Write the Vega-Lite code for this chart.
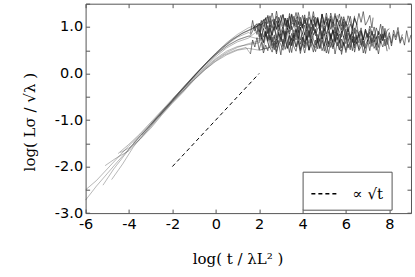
{
"$schema":"https://vega.github.io/schema/vega-lite/v6.json",
"width":325.4,"height":209.4,
"autosize":{"type":"none"},
"padding":{"left":85.6,"top":3.7,"right":4,"bottom":64},
"config":{"view":{"stroke":"#555","strokeWidth":1},
"axis":{"grid":false,"domain":false,"tickColor":"#555","tickSize":-4,"tickWidth":1,"labelFont":"DejaVu Sans","labelFontSize":14.5,"labelColor":"black","labelFlush":false,"titleFont":"DejaVu Serif","titleFontSize":15,"titleFontWeight":"normal","titleColor":"black"}},
"datasets":{
"curves":[
{"s":1,"x":-6,"y":-2.72},{"s":1,"x":-5.5,"y":-2.42},{"s":1,"x":-5,"y":-2.15},{"s":1,"x":-4.5,"y":-1.88},{"s":1,"x":-4,"y":-1.62},{"s":1,"x":-3.5,"y":-1.36},{"s":1,"x":-3,"y":-1.12},{"s":1,"x":-2.5,"y":-0.86},{"s":1,"x":-2,"y":-0.6},{"s":1,"x":-1.5,"y":-0.36},{"s":1,"x":-1,"y":-0.12},{"s":1,"x":-0.5,"y":0.1},{"s":1,"x":0,"y":0.3},{"s":1,"x":0.5,"y":0.45},{"s":1,"x":1,"y":0.56},{"s":1,"x":1.5,"y":0.64},{"s":1,"x":2,"y":0.7},
{"s":1,"x":2.1,"y":0.86},{"s":1,"x":2.2,"y":0.66},{"s":1,"x":2.3,"y":0.89},{"s":1,"x":2.4,"y":0.71},{"s":1,"x":2.5,"y":0.83},{"s":1,"x":2.6,"y":0.6},{"s":1,"x":2.7,"y":0.79},{"s":1,"x":2.8,"y":0.56},{"s":1,"x":2.9,"y":0.85},{"s":1,"x":3.0,"y":0.76},{"s":1,"x":3.1,"y":0.64},{"s":1,"x":3.2,"y":0.91},{"s":1,"x":3.3,"y":0.68},{"s":1,"x":3.4,"y":0.82},{"s":1,"x":3.5,"y":0.59},{"s":1,"x":3.6,"y":0.87},{"s":1,"x":3.7,"y":0.72},{"s":1,"x":3.8,"y":0.93},{"s":1,"x":3.9,"y":0.63},{"s":1,"x":4.0,"y":0.78},{"s":1,"x":4.1,"y":0.58},{"s":1,"x":4.2,"y":0.81},{"s":1,"x":4.3,"y":0.65},{"s":1,"x":4.4,"y":0.88},{"s":1,"x":4.5,"y":0.74},{"s":1,"x":4.6,"y":0.61},{"s":1,"x":4.7,"y":0.84},{"s":1,"x":4.8,"y":0.69},{"s":1,"x":4.9,"y":0.92},{"s":1,"x":5.0,"y":0.62},{"s":1,"x":5.1,"y":0.77},{"s":1,"x":5.2,"y":0.57},{"s":1,"x":5.3,"y":0.83},{"s":1,"x":5.4,"y":0.67},{"s":1,"x":5.5,"y":0.9},{"s":1,"x":5.6,"y":0.73},{"s":1,"x":5.7,"y":0.85},{"s":1,"x":5.8,"y":0.55},{"s":1,"x":5.9,"y":0.8},{"s":1,"x":6.0,"y":0.64},{"s":1,"x":6.1,"y":0.87},{"s":1,"x":6.2,"y":0.7},{"s":1,"x":6.3,"y":0.94},{"s":1,"x":6.4,"y":0.6},{"s":1,"x":6.5,"y":0.82},{"s":1,"x":6.6,"y":0.66},{"s":1,"x":6.7,"y":0.89},{"s":1,"x":6.8,"y":0.58},{"s":1,"x":6.9,"y":0.76},{"s":1,"x":7.0,"y":0.86},{"s":1,"x":7.1,"y":0.63},{"s":1,"x":7.2,"y":0.91},{"s":1,"x":7.3,"y":0.68},{"s":1,"x":7.4,"y":0.79},{"s":1,"x":7.5,"y":0.56},{"s":1,"x":7.6,"y":0.84},{"s":1,"x":7.7,"y":0.71},{"s":1,"x":7.8,"y":0.88},{"s":1,"x":7.9,"y":0.62},{"s":1,"x":8.0,"y":0.81},{"s":1,"x":8.1,"y":0.59},{"s":1,"x":8.2,"y":0.85},{"s":1,"x":8.3,"y":0.72},{"s":1,"x":8.4,"y":0.9},{"s":1,"x":8.5,"y":0.65},{"s":1,"x":8.6,"y":0.78},{"s":1,"x":8.7,"y":0.61},{"s":1,"x":8.8,"y":0.92},{"s":1,"x":8.9,"y":0.67},{"s":1,"x":9.0,"y":0.83},
{"s":2,"x":-6,"y":-2.5},{"s":2,"x":-5.5,"y":-2.3},{"s":2,"x":-5,"y":-2.05},{"s":2,"x":-4.5,"y":-1.8},{"s":2,"x":-4,"y":-1.55},{"s":2,"x":-3.5,"y":-1.32},{"s":2,"x":-3,"y":-1.08},{"s":2,"x":-2.5,"y":-0.82},{"s":2,"x":-2,"y":-0.58},{"s":2,"x":-1.5,"y":-0.34},{"s":2,"x":-1,"y":-0.08},{"s":2,"x":-0.5,"y":0.14},{"s":2,"x":0,"y":0.36},{"s":2,"x":0.5,"y":0.55},{"s":2,"x":1,"y":0.68},{"s":2,"x":1.5,"y":0.76},
{"s":2,"x":2.0,"y":0.94},{"s":2,"x":2.1,"y":0.8},{"s":2,"x":2.2,"y":0.67},{"s":2,"x":2.3,"y":0.9},{"s":2,"x":2.4,"y":0.75},{"s":2,"x":2.5,"y":0.98},{"s":2,"x":2.6,"y":0.68},{"s":2,"x":2.7,"y":0.83},{"s":2,"x":2.8,"y":0.63},{"s":2,"x":2.9,"y":0.89},{"s":2,"x":3.0,"y":0.73},{"s":2,"x":3.1,"y":0.96},{"s":2,"x":3.2,"y":0.79},{"s":2,"x":3.3,"y":0.91},{"s":2,"x":3.4,"y":0.61},{"s":2,"x":3.5,"y":0.86},{"s":2,"x":3.6,"y":0.7},{"s":2,"x":3.7,"y":0.93},{"s":2,"x":3.8,"y":0.76},{"s":2,"x":3.9,"y":1.0},{"s":2,"x":4.0,"y":0.66},{"s":2,"x":4.1,"y":0.88},{"s":2,"x":4.2,"y":0.72},{"s":2,"x":4.3,"y":0.95},{"s":2,"x":4.4,"y":0.64},{"s":2,"x":4.5,"y":0.82},{"s":2,"x":4.6,"y":0.92},{"s":2,"x":4.7,"y":0.69},{"s":2,"x":4.8,"y":0.97},{"s":2,"x":4.9,"y":0.74},{"s":2,"x":5.0,"y":0.85},{"s":2,"x":5.1,"y":0.62},{"s":2,"x":5.2,"y":0.9},{"s":2,"x":5.3,"y":0.77},{"s":2,"x":5.4,"y":0.94},{"s":2,"x":5.5,"y":0.68},{"s":2,"x":5.6,"y":0.87},{"s":2,"x":5.7,"y":0.65},{"s":2,"x":5.8,"y":0.91},{"s":2,"x":5.9,"y":0.78},{"s":2,"x":6.0,"y":0.96},{"s":2,"x":6.1,"y":0.71},{"s":2,"x":6.2,"y":0.84},{"s":2,"x":6.3,"y":0.67},{"s":2,"x":6.4,"y":0.98},{"s":2,"x":6.5,"y":0.73},{"s":2,"x":6.6,"y":0.89},{"s":2,"x":6.7,"y":0.92},{"s":2,"x":6.8,"y":0.72},{"s":2,"x":6.9,"y":0.95},{"s":2,"x":7.0,"y":0.77},{"s":2,"x":7.1,"y":0.89},{"s":2,"x":7.2,"y":0.66},{"s":2,"x":7.3,"y":0.85},{"s":2,"x":7.4,"y":0.62},{"s":2,"x":7.5,"y":0.91},{"s":2,"x":7.6,"y":0.82},{"s":2,"x":7.7,"y":0.7},{"s":2,"x":7.8,"y":0.97},{"s":2,"x":7.9,"y":0.74},{"s":2,"x":8.0,"y":0.88},{"s":2,"x":8.1,"y":0.65},{"s":2,"x":8.2,"y":0.93},{"s":2,"x":8.3,"y":0.78},{"s":2,"x":8.4,"y":0.99},{"s":2,"x":8.5,"y":0.69},{"s":2,"x":8.6,"y":0.84},
{"s":3,"x":-5.1,"y":-1.98},{"s":3,"x":-4.6,"y":-1.82},{"s":3,"x":-4,"y":-1.66},{"s":3,"x":-3.5,"y":-1.4},{"s":3,"x":-3,"y":-1.15},{"s":3,"x":-2.5,"y":-0.88},{"s":3,"x":-2,"y":-0.62},{"s":3,"x":-1.5,"y":-0.38},{"s":3,"x":-1,"y":-0.1},{"s":3,"x":-0.5,"y":0.12},{"s":3,"x":0,"y":0.32},{"s":3,"x":0.5,"y":0.48},{"s":3,"x":1,"y":0.58},{"s":3,"x":1.5,"y":0.62},{"s":3,"x":2,"y":0.66},
{"s":3,"x":2.1,"y":0.76},{"s":3,"x":2.2,"y":0.53},{"s":3,"x":2.3,"y":0.84},{"s":3,"x":2.4,"y":0.66},{"s":3,"x":2.5,"y":0.56},{"s":3,"x":2.6,"y":0.79},{"s":3,"x":2.7,"y":0.51},{"s":3,"x":2.8,"y":0.74},{"s":3,"x":2.9,"y":0.63},{"s":3,"x":3.0,"y":0.86},{"s":3,"x":3.1,"y":0.58},{"s":3,"x":3.2,"y":0.71},{"s":3,"x":3.3,"y":0.54},{"s":3,"x":3.4,"y":0.8},{"s":3,"x":3.5,"y":0.61},{"s":3,"x":3.6,"y":0.83},{"s":3,"x":3.7,"y":0.57},{"s":3,"x":3.8,"y":0.7},{"s":3,"x":3.9,"y":0.52},{"s":3,"x":4.0,"y":0.77},{"s":3,"x":4.1,"y":0.64},{"s":3,"x":4.2,"y":0.81},{"s":3,"x":4.3,"y":0.5},{"s":3,"x":4.4,"y":0.75},{"s":3,"x":4.5,"y":0.59},{"s":3,"x":4.6,"y":0.56},{"s":3,"x":4.7,"y":0.76},{"s":3,"x":4.8,"y":0.53},{"s":3,"x":4.9,"y":0.71},{"s":3,"x":5.0,"y":0.59},{"s":3,"x":5.1,"y":0.82},{"s":3,"x":5.2,"y":0.63},{"s":3,"x":5.3,"y":0.86},{"s":3,"x":5.4,"y":0.57},{"s":3,"x":5.5,"y":0.66},{"s":3,"x":5.6,"y":0.78},{"s":3,"x":5.7,"y":0.51},{"s":3,"x":5.8,"y":0.74},{"s":3,"x":5.9,"y":0.6},{"s":3,"x":6.0,"y":0.83},{"s":3,"x":6.1,"y":0.55},{"s":3,"x":6.2,"y":0.7},{"s":3,"x":6.3,"y":0.49},{"s":3,"x":6.4,"y":0.79},{"s":3,"x":6.5,"y":0.64},{"s":3,"x":6.6,"y":0.84},{"s":3,"x":6.7,"y":0.61},{"s":3,"x":6.8,"y":0.77},{"s":3,"x":6.9,"y":0.54},{"s":3,"x":7.0,"y":0.68},{"s":3,"x":7.1,"y":0.81},{"s":3,"x":7.2,"y":0.58},{"s":3,"x":7.3,"y":0.73},{"s":3,"x":7.4,"y":0.5},{"s":3,"x":7.5,"y":0.8},{"s":3,"x":7.6,"y":0.65},{"s":3,"x":7.7,"y":0.85},{"s":3,"x":7.8,"y":0.59},{"s":3,"x":7.9,"y":0.75},{"s":3,"x":8.0,"y":0.52},
{"s":4,"x":-4.5,"y":-1.72},{"s":4,"x":-4,"y":-1.52},{"s":4,"x":-3.5,"y":-1.3},{"s":4,"x":-3,"y":-1.05},{"s":4,"x":-2.5,"y":-0.8},{"s":4,"x":-2,"y":-0.55},{"s":4,"x":-1.5,"y":-0.3},{"s":4,"x":-1,"y":-0.05},{"s":4,"x":-0.5,"y":0.18},{"s":4,"x":0,"y":0.4},{"s":4,"x":0.5,"y":0.58},{"s":4,"x":1,"y":0.72},{"s":4,"x":1.5,"y":0.8},
{"s":4,"x":2.0,"y":0.74},{"s":4,"x":2.1,"y":1.01},{"s":4,"x":2.2,"y":0.78},{"s":4,"x":2.3,"y":0.92},{"s":4,"x":2.4,"y":0.69},{"s":4,"x":2.5,"y":0.97},{"s":4,"x":2.6,"y":0.82},{"s":4,"x":2.7,"y":1.03},{"s":4,"x":2.8,"y":0.73},{"s":4,"x":2.9,"y":0.88},{"s":4,"x":3.0,"y":0.68},{"s":4,"x":3.1,"y":0.91},{"s":4,"x":3.2,"y":0.75},{"s":4,"x":3.3,"y":0.98},{"s":4,"x":3.4,"y":0.84},{"s":4,"x":3.5,"y":0.71},{"s":4,"x":3.6,"y":0.94},{"s":4,"x":3.7,"y":0.79},{"s":4,"x":3.8,"y":1.02},{"s":4,"x":3.9,"y":0.72},{"s":4,"x":4.0,"y":0.87},{"s":4,"x":4.1,"y":0.67},{"s":4,"x":4.2,"y":0.93},{"s":4,"x":4.3,"y":0.77},{"s":4,"x":4.4,"y":1.0},{"s":4,"x":4.5,"y":0.83},{"s":4,"x":4.6,"y":0.95},{"s":4,"x":4.7,"y":0.65},{"s":4,"x":4.8,"y":0.9},{"s":4,"x":4.9,"y":0.74},{"s":4,"x":5.0,"y":0.97},{"s":4,"x":5.1,"y":0.8},{"s":4,"x":5.2,"y":1.04},{"s":4,"x":5.3,"y":0.7},{"s":4,"x":5.4,"y":0.92},{"s":4,"x":5.5,"y":0.76},{"s":4,"x":5.6,"y":0.99},{"s":4,"x":5.7,"y":0.68},{"s":4,"x":5.8,"y":0.86},{"s":4,"x":5.9,"y":0.96},{"s":4,"x":6.0,"y":0.73},{"s":4,"x":6.1,"y":1.01},{"s":4,"x":6.2,"y":0.78},{"s":4,"x":6.3,"y":0.89},{"s":4,"x":6.4,"y":0.66},{"s":4,"x":6.5,"y":0.94},{"s":4,"x":6.6,"y":0.81},{"s":4,"x":6.7,"y":0.98},{"s":4,"x":6.8,"y":0.72},{"s":4,"x":6.9,"y":0.91},{"s":4,"x":7.0,"y":0.69},{"s":4,"x":7.1,"y":0.95},{"s":4,"x":7.2,"y":0.82},{"s":4,"x":7.3,"y":1.0},{"s":4,"x":7.4,"y":0.75},{"s":4,"x":7.5,"y":0.88},{"s":4,"x":7.6,"y":0.71},{"s":4,"x":7.7,"y":1.02},{"s":4,"x":7.8,"y":0.77},{"s":4,"x":7.9,"y":0.93},{"s":4,"x":8.0,"y":0.96},
{"s":5,"x":-5.2,"y":-2.4},{"s":5,"x":-4.7,"y":-2.05},{"s":5,"x":-4.2,"y":-1.75},{"s":5,"x":-3.7,"y":-1.45},{"s":5,"x":-3.2,"y":-1.2},{"s":5,"x":-2.7,"y":-0.95},{"s":5,"x":-2.2,"y":-0.68},{"s":5,"x":-1.7,"y":-0.42},{"s":5,"x":-1.2,"y":-0.16},{"s":5,"x":-0.7,"y":0.1},{"s":5,"x":-0.2,"y":0.34},{"s":5,"x":0.3,"y":0.56},{"s":5,"x":0.8,"y":0.74},{"s":5,"x":1.3,"y":0.88},{"s":5,"x":1.8,"y":0.98},
{"s":5,"x":2.4,"y":1.22},{"s":5,"x":2.5,"y":0.99},{"s":5,"x":2.6,"y":1.16},{"s":5,"x":2.7,"y":1.04},{"s":5,"x":2.8,"y":1.34},{"s":5,"x":2.9,"y":1.09},{"s":5,"x":3.0,"y":1.25},{"s":5,"x":3.1,"y":1.02},{"s":5,"x":3.2,"y":1.19},{"s":5,"x":3.3,"y":0.95},{"s":5,"x":3.4,"y":1.29},{"s":5,"x":3.5,"y":1.07},{"s":5,"x":3.6,"y":1.23},{"s":5,"x":3.7,"y":1.0},{"s":5,"x":3.8,"y":1.31},{"s":5,"x":3.9,"y":1.13},{"s":5,"x":4.0,"y":1.03},{"s":5,"x":4.1,"y":1.26},{"s":5,"x":4.2,"y":0.98},{"s":5,"x":4.3,"y":1.21},{"s":5,"x":4.4,"y":1.1},{"s":5,"x":4.5,"y":1.33},{"s":5,"x":4.6,"y":1.05},{"s":5,"x":4.7,"y":1.18},{"s":5,"x":4.8,"y":1.01},{"s":5,"x":4.9,"y":1.27},{"s":5,"x":5.0,"y":1.08},{"s":5,"x":5.1,"y":1.3},{"s":5,"x":5.2,"y":1.04},{"s":5,"x":5.3,"y":1.17},{"s":5,"x":5.4,"y":0.99},{"s":5,"x":5.5,"y":1.24},{"s":5,"x":5.6,"y":1.11},{"s":5,"x":5.7,"y":1.28},{"s":5,"x":5.8,"y":1.02},{"s":5,"x":5.9,"y":1.22},{"s":5,"x":6.0,"y":1.06},{"s":5,"x":6.1,"y":1.03},{"s":5,"x":6.2,"y":1.23},{"s":5,"x":6.3,"y":1.0},{"s":5,"x":6.4,"y":1.18},{"s":5,"x":6.5,"y":1.06},{"s":5,"x":6.6,"y":1.29},{"s":5,"x":6.7,"y":1.1},{"s":5,"x":6.8,"y":1.33},{"s":5,"x":6.9,"y":1.04},{"s":5,"x":7.0,"y":1.13},{"s":5,"x":7.1,"y":1.25},{"s":5,"x":7.2,"y":0.98},{"s":5,"x":7.25,"y":1.2},
{"s":6,"x":-4.8,"y":-2.28},{"s":6,"x":-4.3,"y":-1.95},{"s":6,"x":-3.8,"y":-1.58},{"s":6,"x":-3.3,"y":-1.3},{"s":6,"x":-2.8,"y":-1.02},{"s":6,"x":-2.3,"y":-0.75},{"s":6,"x":-1.8,"y":-0.48},{"s":6,"x":-1.3,"y":-0.22},{"s":6,"x":-0.8,"y":0.04},{"s":6,"x":-0.3,"y":0.28},{"s":6,"x":0.2,"y":0.5},{"s":6,"x":0.7,"y":0.7},{"s":6,"x":1.2,"y":0.86},{"s":6,"x":1.7,"y":0.98},{"s":6,"x":2.2,"y":1.08},
{"s":6,"x":2.3,"y":1.2},{"s":6,"x":2.4,"y":1.07},{"s":6,"x":2.5,"y":1.24},{"s":6,"x":2.6,"y":0.98},{"s":6,"x":2.7,"y":1.17},{"s":6,"x":2.8,"y":0.95},{"s":6,"x":2.9,"y":1.21},{"s":6,"x":3.0,"y":1.08},{"s":6,"x":3.1,"y":1.26},{"s":6,"x":3.2,"y":1.01},{"s":6,"x":3.3,"y":1.14},{"s":6,"x":3.4,"y":0.97},{"s":6,"x":3.5,"y":1.28},{"s":6,"x":3.6,"y":1.03},{"s":6,"x":3.7,"y":1.19},{"s":6,"x":3.8,"y":1.22},{"s":6,"x":3.9,"y":1.02},{"s":6,"x":4.0,"y":1.25},{"s":6,"x":4.1,"y":1.07},{"s":6,"x":4.2,"y":1.19},{"s":6,"x":4.3,"y":0.96},{"s":6,"x":4.4,"y":1.15},{"s":6,"x":4.5,"y":0.92},{"s":6,"x":4.6,"y":1.21},{"s":6,"x":4.7,"y":1.12},{"s":6,"x":4.8,"y":1.0},{"s":6,"x":4.9,"y":1.27},{"s":6,"x":5.0,"y":1.04},{"s":6,"x":5.1,"y":1.18},{"s":6,"x":5.2,"y":0.95},{"s":6,"x":5.3,"y":1.23},{"s":6,"x":5.4,"y":1.08},{"s":6,"x":5.5,"y":1.29},{"s":6,"x":5.6,"y":0.99},{"s":6,"x":5.7,"y":1.14},{"s":6,"x":5.8,"y":0.94},{"s":6,"x":5.9,"y":1.17},{"s":6,"x":6.0,"y":1.01},{"s":6,"x":6.1,"y":1.24},{"s":6,"x":6.2,"y":1.1},{"s":6,"x":6.3,"y":0.97},{"s":6,"x":6.4,"y":1.2},{"s":6,"x":6.5,"y":1.05},
{"s":7,"x":-4.4,"y":-1.7},{"s":7,"x":-4,"y":-1.6},{"s":7,"x":-3.5,"y":-1.42},{"s":7,"x":-3,"y":-1.18},{"s":7,"x":-2.5,"y":-0.9},{"s":7,"x":-2,"y":-0.64},{"s":7,"x":-1.5,"y":-0.4},{"s":7,"x":-1,"y":-0.14},{"s":7,"x":-0.5,"y":0.08},{"s":7,"x":0,"y":0.26},{"s":7,"x":0.5,"y":0.4},{"s":7,"x":1,"y":0.5},{"s":7,"x":1.5,"y":0.54},{"s":7,"x":2,"y":0.5},{"s":7,"x":2.5,"y":0.56},
{"s":7,"x":2.6,"y":0.46},{"s":7,"x":2.7,"y":0.65},{"s":7,"x":2.8,"y":0.42},{"s":7,"x":2.9,"y":0.71},{"s":7,"x":3.0,"y":0.62},{"s":7,"x":3.1,"y":0.5},{"s":7,"x":3.2,"y":0.77},{"s":7,"x":3.3,"y":0.54},{"s":7,"x":3.4,"y":0.68},{"s":7,"x":3.5,"y":0.45},{"s":7,"x":3.6,"y":0.73},{"s":7,"x":3.7,"y":0.58},{"s":7,"x":3.8,"y":0.79},{"s":7,"x":3.9,"y":0.49},{"s":7,"x":4.0,"y":0.64},{"s":7,"x":4.1,"y":0.44},{"s":7,"x":4.2,"y":0.67},{"s":7,"x":4.3,"y":0.51},{"s":7,"x":4.4,"y":0.74},{"s":7,"x":4.5,"y":0.6},{"s":7,"x":4.6,"y":0.47},{"s":7,"x":4.7,"y":0.7},{"s":7,"x":4.8,"y":0.55},{"s":7,"x":4.9,"y":0.78},{"s":7,"x":5.0,"y":0.48},{"s":7,"x":5.1,"y":0.63},{"s":7,"x":5.2,"y":0.43},{"s":7,"x":5.3,"y":0.69},{"s":7,"x":5.4,"y":0.53},{"s":7,"x":5.5,"y":0.76},{"s":7,"x":5.6,"y":0.59},{"s":7,"x":5.7,"y":0.71},{"s":7,"x":5.8,"y":0.41},{"s":7,"x":5.9,"y":0.66},{"s":7,"x":6.0,"y":0.5},{"s":7,"x":6.1,"y":0.73},{"s":7,"x":6.2,"y":0.56},{"s":7,"x":6.3,"y":0.8},{"s":7,"x":6.4,"y":0.46},{"s":7,"x":6.5,"y":0.68},{"s":7,"x":6.6,"y":0.52},{"s":7,"x":6.7,"y":0.75},{"s":7,"x":6.8,"y":0.44},{"s":7,"x":6.9,"y":0.62},{"s":7,"x":7.0,"y":0.72},{"s":7,"x":7.1,"y":0.49},{"s":7,"x":7.2,"y":0.77},{"s":7,"x":7.3,"y":0.54},{"s":7,"x":7.4,"y":0.65},{"s":7,"x":7.5,"y":0.42},{"s":7,"x":7.6,"y":0.7},{"s":7,"x":7.7,"y":0.57},{"s":7,"x":7.8,"y":0.74},{"s":7,"x":7.9,"y":0.48},
{"s":8,"x":-3.8,"y":-1.5},{"s":8,"x":-3.3,"y":-1.25},{"s":8,"x":-2.8,"y":-0.98},{"s":8,"x":-2.3,"y":-0.72},{"s":8,"x":-1.8,"y":-0.46},{"s":8,"x":-1.3,"y":-0.2},{"s":8,"x":-0.8,"y":0.05},{"s":8,"x":-0.3,"y":0.3},{"s":8,"x":0.2,"y":0.52},{"s":8,"x":0.7,"y":0.72},{"s":8,"x":1.2,"y":0.86},{"s":8,"x":1.7,"y":0.96},
{"s":8,"x":1.9,"y":1.07},{"s":8,"x":2.0,"y":0.89},{"s":8,"x":2.1,"y":1.14},{"s":8,"x":2.2,"y":1.01},{"s":8,"x":2.3,"y":1.18},{"s":8,"x":2.4,"y":0.87},{"s":8,"x":2.5,"y":1.12},{"s":8,"x":2.6,"y":0.96},{"s":8,"x":2.7,"y":0.93},{"s":8,"x":2.8,"y":1.13},{"s":8,"x":2.9,"y":0.9},{"s":8,"x":3.0,"y":1.08},{"s":8,"x":3.1,"y":0.96},{"s":8,"x":3.2,"y":1.19},{"s":8,"x":3.3,"y":1.0},{"s":8,"x":3.4,"y":1.23},{"s":8,"x":3.5,"y":0.94},{"s":8,"x":3.6,"y":1.03},{"s":8,"x":3.7,"y":1.15},{"s":8,"x":3.8,"y":0.88},{"s":8,"x":3.9,"y":1.11},{"s":8,"x":4.0,"y":0.97},{"s":8,"x":4.1,"y":1.2},{"s":8,"x":4.2,"y":0.92},{"s":8,"x":4.3,"y":1.07},{"s":8,"x":4.4,"y":0.86},{"s":8,"x":4.5,"y":1.16},{"s":8,"x":4.6,"y":1.01},{"s":8,"x":4.7,"y":1.21},{"s":8,"x":4.8,"y":0.98},{"s":8,"x":4.9,"y":1.14},{"s":8,"x":5.0,"y":0.91},{"s":8,"x":5.1,"y":1.05},{"s":8,"x":5.2,"y":1.18},{"s":8,"x":5.3,"y":0.95},{"s":8,"x":5.4,"y":1.1},{"s":8,"x":5.5,"y":0.87},{"s":8,"x":5.6,"y":1.17},{"s":8,"x":5.7,"y":1.02},{"s":8,"x":5.8,"y":1.22},{"s":8,"x":5.9,"y":0.96},{"s":8,"x":6.0,"y":1.12},{"s":8,"x":6.1,"y":0.89},{"s":8,"x":6.2,"y":1.06},{"s":8,"x":6.3,"y":0.94},{"s":8,"x":6.4,"y":1.24},
{"s":9,"x":-3.4,"y":-1.32},{"s":9,"x":-2.9,"y":-1.05},{"s":9,"x":-2.4,"y":-0.78},{"s":9,"x":-1.9,"y":-0.52},{"s":9,"x":-1.4,"y":-0.27},{"s":9,"x":-0.9,"y":-0.02},{"s":9,"x":-0.4,"y":0.22},{"s":9,"x":0.1,"y":0.44},{"s":9,"x":0.6,"y":0.62},{"s":9,"x":1.1,"y":0.74},{"s":9,"x":1.6,"y":0.82},
{"s":9,"x":1.8,"y":1.01},{"s":9,"x":1.9,"y":0.84},{"s":9,"x":2.0,"y":1.08},{"s":9,"x":2.1,"y":0.74},{"s":9,"x":2.2,"y":0.96},{"s":9,"x":2.3,"y":0.8},{"s":9,"x":2.4,"y":1.03},{"s":9,"x":2.5,"y":0.72},{"s":9,"x":2.6,"y":0.9},{"s":9,"x":2.7,"y":1.0},{"s":9,"x":2.8,"y":0.77},{"s":9,"x":2.9,"y":1.05},{"s":9,"x":3.0,"y":0.82},{"s":9,"x":3.1,"y":0.93},{"s":9,"x":3.2,"y":0.7},{"s":9,"x":3.3,"y":0.98},{"s":9,"x":3.4,"y":0.85},{"s":9,"x":3.5,"y":1.02},{"s":9,"x":3.6,"y":0.76},{"s":9,"x":3.7,"y":0.95},{"s":9,"x":3.8,"y":0.73},{"s":9,"x":3.9,"y":0.99},{"s":9,"x":4.0,"y":0.86},{"s":9,"x":4.1,"y":1.04},{"s":9,"x":4.2,"y":0.79},{"s":9,"x":4.3,"y":0.92},{"s":9,"x":4.4,"y":0.75},{"s":9,"x":4.5,"y":1.06},{"s":9,"x":4.6,"y":0.81},{"s":9,"x":4.7,"y":0.97},{"s":9,"x":4.8,"y":1.0},{"s":9,"x":4.9,"y":0.8},{"s":9,"x":5.0,"y":1.03},{"s":9,"x":5.1,"y":0.85},{"s":9,"x":5.2,"y":0.97},{"s":9,"x":5.3,"y":0.74},{"s":9,"x":5.4,"y":0.93},{"s":9,"x":5.5,"y":0.7},{"s":9,"x":5.6,"y":0.99},{"s":9,"x":5.7,"y":0.9},{"s":9,"x":5.8,"y":0.78},{"s":9,"x":5.9,"y":1.05},{"s":9,"x":6.0,"y":0.82},{"s":9,"x":6.1,"y":0.96},{"s":9,"x":6.2,"y":0.73},{"s":9,"x":6.3,"y":1.01},{"s":9,"x":6.4,"y":0.86},{"s":9,"x":6.5,"y":1.07},{"s":9,"x":6.6,"y":0.77},{"s":9,"x":6.7,"y":0.92},{"s":9,"x":6.8,"y":0.72},{"s":9,"x":6.9,"y":0.95},{"s":9,"x":7.0,"y":0.79},{"s":9,"x":7.1,"y":1.02},{"s":9,"x":7.2,"y":0.88},{"s":9,"x":7.3,"y":0.75},{"s":9,"x":7.4,"y":0.98},{"s":9,"x":7.5,"y":0.83},{"s":9,"x":7.6,"y":1.06},{"s":9,"x":7.7,"y":0.76},{"s":9,"x":7.8,"y":0.91},
{"s":10,"x":-3,"y":-1.1},{"s":10,"x":-2.5,"y":-0.85},{"s":10,"x":-2,"y":-0.6},{"s":10,"x":-1.5,"y":-0.33},{"s":10,"x":-1,"y":-0.06},{"s":10,"x":-0.5,"y":0.2},{"s":10,"x":0,"y":0.44},{"s":10,"x":0.5,"y":0.66},{"s":10,"x":1,"y":0.84},{"s":10,"x":1.5,"y":0.98},{"s":10,"x":2,"y":1.07},
{"s":10,"x":2.1,"y":1.01},{"s":10,"x":2.2,"y":1.16},{"s":10,"x":2.3,"y":0.95},{"s":10,"x":2.4,"y":1.25},{"s":10,"x":2.5,"y":1.1},{"s":10,"x":2.6,"y":1.3},{"s":10,"x":2.7,"y":1.07},{"s":10,"x":2.8,"y":1.23},{"s":10,"x":2.9,"y":1.0},{"s":10,"x":3.0,"y":1.14},{"s":10,"x":3.1,"y":1.27},{"s":10,"x":3.2,"y":1.04},{"s":10,"x":3.3,"y":1.19},{"s":10,"x":3.4,"y":0.96},{"s":10,"x":3.5,"y":1.26},{"s":10,"x":3.6,"y":1.11},{"s":10,"x":3.7,"y":1.31},{"s":10,"x":3.8,"y":1.05},{"s":10,"x":3.9,"y":1.21},{"s":10,"x":4.0,"y":0.98},{"s":10,"x":4.1,"y":1.15},{"s":10,"x":4.2,"y":1.03},{"s":10,"x":4.3,"y":1.33},{"s":10,"x":4.4,"y":1.08},{"s":10,"x":4.5,"y":1.24},{"s":10,"x":4.6,"y":1.01},{"s":10,"x":4.7,"y":1.18},{"s":10,"x":4.8,"y":0.94},{"s":10,"x":4.9,"y":1.28},{"s":10,"x":5.0,"y":1.06},{"s":10,"x":5.1,"y":1.22},{"s":10,"x":5.2,"y":0.99},{"s":10,"x":5.3,"y":1.3},{"s":10,"x":5.4,"y":1.12},{"s":10,"x":5.5,"y":1.02},{"s":10,"x":5.6,"y":1.25},
{"s":11,"x":-2.6,"y":-0.92},{"s":11,"x":-2.1,"y":-0.66},{"s":11,"x":-1.6,"y":-0.42},{"s":11,"x":-1.1,"y":-0.18},{"s":11,"x":-0.6,"y":0.04},{"s":11,"x":-0.1,"y":0.24},{"s":11,"x":0.4,"y":0.4},{"s":11,"x":0.9,"y":0.5},{"s":11,"x":1.4,"y":0.56},
{"s":11,"x":1.6,"y":0.42},{"s":11,"x":1.7,"y":0.72},{"s":11,"x":1.8,"y":0.57},{"s":11,"x":1.9,"y":0.77},{"s":11,"x":2.0,"y":0.51},{"s":11,"x":2.1,"y":0.67},{"s":11,"x":2.2,"y":0.44},{"s":11,"x":2.3,"y":0.61},{"s":11,"x":2.4,"y":0.49},{"s":11,"x":2.5,"y":0.79},{"s":11,"x":2.6,"y":0.54},{"s":11,"x":2.7,"y":0.7},{"s":11,"x":2.8,"y":0.47},{"s":11,"x":2.9,"y":0.64},{"s":11,"x":3.0,"y":0.4},{"s":11,"x":3.1,"y":0.74},{"s":11,"x":3.2,"y":0.52},{"s":11,"x":3.3,"y":0.68},{"s":11,"x":3.4,"y":0.45},{"s":11,"x":3.5,"y":0.76},{"s":11,"x":3.6,"y":0.58},{"s":11,"x":3.7,"y":0.48},{"s":11,"x":3.8,"y":0.71},{"s":11,"x":3.9,"y":0.43},{"s":11,"x":4.0,"y":0.66},{"s":11,"x":4.1,"y":0.55},{"s":11,"x":4.2,"y":0.78},{"s":11,"x":4.3,"y":0.5},{"s":11,"x":4.4,"y":0.63},{"s":11,"x":4.5,"y":0.46},{"s":11,"x":4.6,"y":0.72},{"s":11,"x":4.7,"y":0.53},{"s":11,"x":4.8,"y":0.75},{"s":11,"x":4.9,"y":0.49},{"s":11,"x":5.0,"y":0.62},{"s":11,"x":5.1,"y":0.44},{"s":11,"x":5.2,"y":0.69},{"s":11,"x":5.3,"y":0.56},{"s":11,"x":5.4,"y":0.73},{"s":11,"x":5.5,"y":0.42},{"s":11,"x":5.6,"y":0.67},{"s":11,"x":5.7,"y":0.51},{"s":11,"x":5.8,"y":0.48},{"s":11,"x":5.9,"y":0.68},{"s":11,"x":6.0,"y":0.45},{"s":11,"x":6.1,"y":0.63},{"s":11,"x":6.2,"y":0.51},{"s":11,"x":6.3,"y":0.74},{"s":11,"x":6.4,"y":0.55},{"s":11,"x":6.5,"y":0.78},{"s":11,"x":6.6,"y":0.49},{"s":11,"x":6.7,"y":0.58},{"s":11,"x":6.8,"y":0.7},{"s":11,"x":6.9,"y":0.43},{"s":11,"x":7.0,"y":0.66},
{"s":12,"x":-2,"y":-0.56},{"s":12,"x":-1.5,"y":-0.3},{"s":12,"x":-1,"y":-0.04},{"s":12,"x":-0.5,"y":0.2},{"s":12,"x":0,"y":0.42},{"s":12,"x":0.5,"y":0.62},{"s":12,"x":1,"y":0.78},{"s":12,"x":1.5,"y":0.88},
{"s":12,"x":1.6,"y":0.86},{"s":12,"x":1.7,"y":1.14},{"s":12,"x":1.8,"y":0.91},{"s":12,"x":1.9,"y":1.02},{"s":12,"x":2.0,"y":0.79},{"s":12,"x":2.1,"y":1.07},{"s":12,"x":2.2,"y":0.94},{"s":12,"x":2.3,"y":1.11},{"s":12,"x":2.4,"y":0.85},{"s":12,"x":2.5,"y":1.04},{"s":12,"x":2.6,"y":0.82},{"s":12,"x":2.7,"y":1.08},{"s":12,"x":2.8,"y":0.95},{"s":12,"x":2.9,"y":1.13},{"s":12,"x":3.0,"y":0.88},{"s":12,"x":3.1,"y":1.01},{"s":12,"x":3.2,"y":0.84},{"s":12,"x":3.3,"y":1.15},{"s":12,"x":3.4,"y":0.9},{"s":12,"x":3.5,"y":1.06},{"s":12,"x":3.6,"y":1.09},{"s":12,"x":3.7,"y":0.89},{"s":12,"x":3.8,"y":1.12},{"s":12,"x":3.9,"y":0.94},{"s":12,"x":4.0,"y":1.06},{"s":12,"x":4.1,"y":0.83},{"s":12,"x":4.2,"y":1.02},{"s":12,"x":4.3,"y":0.79},{"s":12,"x":4.4,"y":1.08},{"s":12,"x":4.5,"y":0.99},{"s":12,"x":4.6,"y":0.87},{"s":12,"x":4.7,"y":1.14},{"s":12,"x":4.8,"y":0.91},{"s":12,"x":4.9,"y":1.05},{"s":12,"x":5.0,"y":0.82},{"s":12,"x":5.1,"y":1.1},{"s":12,"x":5.2,"y":0.95},{"s":12,"x":5.3,"y":1.16},{"s":12,"x":5.4,"y":0.86},{"s":12,"x":5.5,"y":1.01},{"s":12,"x":5.6,"y":0.81},{"s":12,"x":5.7,"y":1.04},{"s":12,"x":5.8,"y":0.88},{"s":12,"x":5.9,"y":1.11},{"s":12,"x":6.0,"y":0.97}
],
"ref":[{"x":-2,"y":-2},{"x":2,"y":0}]
},
"layer":[
{"data":{"name":"curves"},
"mark":{"type":"line","stroke":"#2a2a2a","strokeWidth":0.75,"opacity":0.45},
"encoding":{
"x":{"field":"x","type":"quantitative","scale":{"domain":[-6,9],"nice":false,"zero":false},
"axis":{"orient":"bottom","values":[-6,-4,-2,0,2,4,6,8],"labelPadding":8,"labelExpr":"(datum.value < 0 ? '-' : '') + format(abs(datum.value), 'd')","title":"log( t / λL² )","titleX":152,"titleY":45,"titleBaseline":"middle"}},
"y":{"field":"y","type":"quantitative","scale":{"domain":[-3,1.5],"nice":false,"zero":false},
"axis":{"orient":"left","values":[-3,-2.5,-2,-1.5,-1,-0.5,0,0.5,1,1.5],"labelPadding":7,"labelExpr":"datum.value % 1 == 0 ? (datum.value < 0 ? '-' : '') + format(abs(datum.value), '.1f') : ''","title":"log( Lσ / √λ )","titleX":-56,"titleY":118,"titleAngle":-90,"titleBaseline":"middle","titleAlign":"center"}},
"detail":{"field":"s","type":"nominal"}}},
{"data":{"name":"curves"},
"transform":[{"filter":"datum.x >= 1.6"}],
"mark":{"type":"line","stroke":"#1a1a1a","strokeWidth":0.75,"opacity":0.45},
"encoding":{
"x":{"field":"x","type":"quantitative","scale":{"domain":[-6,9],"nice":false,"zero":false},"axis":null},
"y":{"field":"y","type":"quantitative","scale":{"domain":[-3,1.5],"nice":false,"zero":false},"axis":null},
"detail":{"field":"s","type":"nominal"}}},
{"data":{"name":"ref"},
"mark":{"type":"line","color":"black","strokeWidth":1},
"encoding":{
"x":{"field":"x","type":"quantitative","scale":{"domain":[-6,9],"nice":false,"zero":false},
"axis":{"orient":"top","values":[-6,-4,-2,0,2,4,6,8],"labels":false,"title":null}},
"y":{"field":"y","type":"quantitative","scale":{"domain":[-3,1.5],"nice":false,"zero":false},
"axis":{"orient":"right","values":[-3,-2.5,-2,-1.5,-1,-0.5,0,0.5,1,1.5],"labels":false,"title":null}},
"strokeDash":{"datum":"∝ √t","type":"nominal","scale":{"range":[[4,3]]},
"legend":{"title":null,"orient":"none","legendX":217,"legendY":168,"padding":8,"fillColor":"white","strokeColor":"#555","symbolType":"stroke","symbolSize":700,"symbolStrokeWidth":1.5,"symbolStrokeColor":"black","labelFont":"DejaVu Serif","labelFontSize":15,"labelOffset":14,"labelColor":"black"}}}}
],
"resolve":{"axis":{"x":"independent","y":"independent"}}
}
